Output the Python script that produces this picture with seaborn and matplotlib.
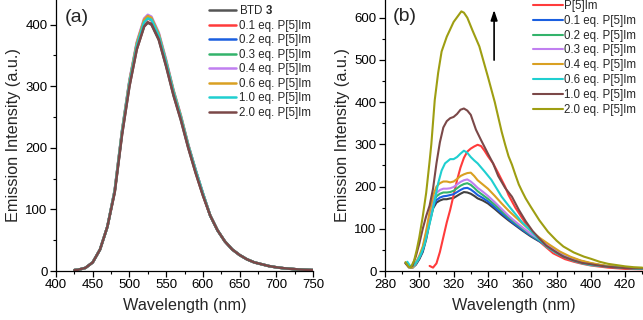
import numpy as np
import pandas as pd
import matplotlib
matplotlib.use("Agg")
import matplotlib.pyplot as plt
from matplotlib.ticker import MultipleLocator
import seaborn as sns

# ---- panel (a): BTD 3 emission with P[5]Im ----
wl_a = [425, 430, 440, 450, 460, 470, 480, 490, 500, 510, 520, 525, 530, 540,
        550, 560, 570, 580, 590, 600, 610, 620, 630, 640, 650, 660, 670, 680,
        690, 700, 710, 720, 730, 740, 750]
tail_lo = [1.5, 2, 5, 14, 35, 72]
tail_hi = [90, 66, 48, 35, 26, 19, 14, 11, 8, 6, 4.5, 3.5, 2.5, 2, 1.5]
btd3 = tail_lo + [128, 222, 300, 360, 397, 403, 400, 375, 332, 285, 245, 200, 160, 123] + tail_hi
eq01_a = tail_lo + [130, 226, 305, 366, 404, 410, 407, 381, 338, 290, 249, 203, 163, 125] + tail_hi
eq02_a = tail_lo + [131, 227, 307, 368, 406, 412, 409, 383, 339, 291, 250, 204, 164, 126] + tail_hi
eq03_a = tail_lo + [131, 228, 308, 369, 407, 413, 410, 384, 340, 292, 251, 205, 164, 126] + tail_hi
eq04_a = tail_lo + [132, 229, 310, 372, 410, 416, 413, 387, 343, 294, 253, 206, 165, 127] + tail_hi
eq06_a = tail_lo + [131, 228, 308, 370, 408, 414, 411, 385, 341, 293, 252, 205, 164, 126] + tail_hi
eq10_a = tail_lo + [130, 226, 305, 366, 404, 410, 408, 382, 339, 291, 250, 204, 164, 126] + tail_hi
eq20_a = tail_lo + [128, 222, 300, 360, 397, 404, 401, 376, 333, 286, 246, 201, 160, 123] + tail_hi

# ---- panel (b): P[5]Im titration ----
wl_low = [292, 294, 296, 298, 300, 302, 304, 306, 308, 310, 312, 314, 316, 318,
          320, 322, 324, 326, 328, 330, 332, 334, 337, 340, 344, 348, 352, 356,
          360, 365, 370, 376, 382, 388, 394, 400, 408, 416, 424, 430]
eq00_b = [18, 10, 8, 15, 28, 45, 75, 115, 148, 162, 167, 170, 170, 172, 173, 178, 183, 187, 186, 183,
          178, 172, 167, 160, 147, 133, 120, 108, 96, 82, 70, 54, 42, 30, 23, 17, 12, 9, 7, 6]
eq01_b = [19, 10, 8, 16, 30, 48, 80, 120, 152, 168, 174, 177, 178, 180, 182, 187, 192, 196, 197, 193,
          187, 180, 173, 165, 151, 137, 123, 110, 98, 84, 71, 55, 42, 31, 23, 17, 12, 9, 7, 6]
eq02_b = [20, 10, 8, 17, 32, 52, 85, 127, 160, 177, 183, 186, 186, 187, 190, 196, 202, 206, 208, 204,
          197, 189, 180, 171, 157, 142, 127, 114, 101, 86, 73, 56, 43, 32, 24, 18, 12, 9, 7, 6]
eq03_b = [20, 10, 8, 18, 34, 55, 90, 133, 167, 185, 192, 195, 195, 196, 199, 205, 211, 215, 217, 212,
          205, 197, 188, 178, 163, 147, 131, 117, 104, 88, 75, 58, 44, 32, 24, 18, 12, 9, 7, 6]
eq04_b = [21, 11, 8, 19, 36, 58, 95, 140, 178, 200, 208, 212, 212, 210, 212, 218, 225, 229, 232, 233,
          225, 215, 205, 195, 178, 160, 143, 128, 113, 95, 79, 62, 46, 34, 25, 19, 13, 9, 7, 6]

wl_p5 = [306, 308, 310, 312, 314, 316, 318, 320, 322, 324, 326, 328, 330, 332, 334, 336, 338,
         340, 343, 346, 350, 352, 356, 360, 364, 368, 372, 378, 385, 390, 395, 400, 410, 420, 430]
p5im = [12, 8, 18, 45, 80, 115, 145, 180, 215, 245, 268, 283, 290, 295, 299, 296, 285,
        272, 255, 232, 200, 180, 150, 125, 100, 80, 63, 42, 28, 22, 17, 13, 8, 5, 4]

wl_06 = [293, 295, 297, 299, 301, 303, 305, 307, 309, 311, 313, 315, 318, 320, 322, 324, 326, 328,
         330, 332, 334, 338, 342, 345, 348, 352, 356, 360, 365, 370, 374, 380, 384, 390, 395, 400,
         410, 420, 430]
eq06_b = [22, 10, 14, 25, 40, 62, 95, 129, 168, 208, 238, 255, 265, 265, 270, 278, 285, 280,
          270, 262, 255, 236, 216, 196, 176, 155, 135, 115, 95, 74, 58, 42, 34, 24, 18, 14, 10, 7, 5]

wl_10 = [292, 294, 296, 298, 300, 302, 304, 306, 308, 310, 312, 314, 316, 318, 320, 322, 324, 326,
         328, 330, 333, 336, 340, 343, 346, 350, 354, 358, 362, 366, 370, 374, 380, 384, 390, 395,
         400, 403, 410, 420, 430]
eq10_b = [18, 8, 12, 35, 65, 100, 130, 155, 195, 255, 305, 340, 355, 362, 365, 372, 382, 385,
          380, 370, 335, 310, 278, 255, 225, 197, 176, 145, 118, 95, 77, 60, 44, 34, 25, 19,
          16, 14, 10, 7, 6]

wl_20 = [292, 294, 295, 297, 298.5, 300, 302, 304, 306, 307, 309, 311, 313, 316, 320, 324.5, 326,
         328, 331, 335, 340, 344, 348, 350, 352, 354, 356, 358, 360, 362, 365, 370, 375, 380, 384,
         390, 396, 400, 405, 410, 415, 420, 425, 430]
eq20_b = [20, 9, 8, 25, 50, 80, 129, 185, 260, 300, 405, 470, 520, 555, 590, 615, 612,
          600, 570, 532, 460, 400, 330, 300, 272, 252, 228, 205, 188, 172, 152, 120, 93, 72, 58,
          44, 34, 29, 22, 17, 14, 11, 9, 8]

labels_a = ["BTD $\\mathbf{3}$", "0.1 eq. P[5]Im", "0.2 eq. P[5]Im", "0.3 eq. P[5]Im",
            "0.4 eq. P[5]Im", "0.6 eq. P[5]Im", "1.0 eq. P[5]Im", "2.0 eq. P[5]Im"]
labels_b = ["P[5]Im", "0.1 eq. P[5]Im", "0.2 eq. P[5]Im", "0.3 eq. P[5]Im",
            "0.4 eq. P[5]Im", "0.6 eq. P[5]Im", "1.0 eq. P[5]Im", "2.0 eq. P[5]Im"]

gray = "#555555"
red = "#ff3b3b"
blue = "#1a5fe0"
green = "#33b36b"
purple = "#c07ff0"
orange = "#d9a022"
cyan = "#1fcfd0"
brown = "#7b4848"
olive = "#9e9e12"

sns.set_style("ticks")
plt.rcParams['font.family'] = ['Liberation Sans', 'DejaVu Sans']
plt.rcParams['mathtext.fontset'] = 'custom'
plt.rcParams['mathtext.rm'] = 'Liberation Sans'
plt.rcParams['mathtext.bf'] = 'Liberation Sans:bold'

fig = plt.figure(figsize=(6.43, 3.2), dpi=100)
ax1 = fig.add_axes([56 / 643, 49 / 320, 257 / 643, 271 / 320])
ax2 = fig.add_axes([385 / 643, 49 / 320, 258 / 643, 271 / 320])

# panel (a)
series_a = [btd3, eq01_a, eq02_a, eq03_a, eq04_a, eq06_a, eq10_a, eq20_a]
colors_a = [gray, red, blue, green, purple, orange, cyan, brown]
for vals, col, lab in zip(series_a, colors_a, labels_a):
    sns.lineplot(x=wl_a, y=vals, color=col, label=lab, lw=1.8, ax=ax1, sort=False)

# panel (b)
sns.lineplot(x=wl_low, y=eq00_b, color="#404040", lw=1.5, ax=ax2, legend=False, sort=False)
series_b = [(wl_p5, p5im), (wl_low, eq01_b), (wl_low, eq02_b), (wl_low, eq03_b),
            (wl_low, eq04_b), (wl_06, eq06_b), (wl_10, eq10_b), (wl_20, eq20_b)]
colors_b = [red, blue, green, purple, orange, cyan, brown, olive]
for (xs, ys), col, lab in zip(series_b, colors_b, labels_b):
    sns.lineplot(x=xs, y=ys, color=col, label=lab, lw=1.5, ax=ax2, sort=False)

ax2.annotate("", xy=(343.6, 625), xytext=(343.6, 493),
             arrowprops=dict(arrowstyle="-|>,head_length=0.6,head_width=0.2",
                             color="black", lw=1.2))

for ax in (ax1, ax2):
    sns.despine(ax=ax)
    for s in ("left", "bottom"):
        ax.spines[s].set_color("black")
        ax.spines[s].set_linewidth(0.9)
    ax.tick_params(which="major", direction="out", length=4, width=0.9,
                   labelsize=9.5, colors="black", pad=2)
    ax.tick_params(which="minor", direction="out", length=2.5, width=0.8, colors="black")
    ax.set_xlabel("Wavelength (nm)", fontsize=11.7, labelpad=5)
    ax.set_ylabel("Emission Intensity (a.u.)", fontsize=11.7, labelpad=3)
    ax.yaxis.set_major_locator(MultipleLocator(100))
    ax.yaxis.set_minor_locator(MultipleLocator(50))

ax1.set_xlim(400, 750)
ax1.set_ylim(0, 440)
ax1.xaxis.set_major_locator(MultipleLocator(50))
ax1.xaxis.set_minor_locator(MultipleLocator(25))
ax2.set_xlim(280, 430.4)
ax2.set_ylim(0, 642)
ax2.xaxis.set_major_locator(MultipleLocator(20))
ax2.xaxis.set_minor_locator(MultipleLocator(10))

ax1.text(0.035, 0.935, "(a)", transform=ax1.transAxes, fontsize=14, va="center", ha="left")
ax2.text(0.03, 0.94, "(b)", transform=ax2.transAxes, fontsize=14, va="center", ha="left")

ax1.legend(loc="upper left", bbox_to_anchor=(0.585, 0.993), frameon=False, fontsize=8.3,
           handlelength=2.35, handletextpad=0.25, labelspacing=0.22, borderpad=0.2,
           borderaxespad=0)
ax2.legend(loc="upper left", bbox_to_anchor=(0.568, 1.005), frameon=False, fontsize=8.3,
           handlelength=2.6, handletextpad=0.1, labelspacing=0.25, borderpad=0.1,
           borderaxespad=0)

fig.savefig("out.png", dpi=100)
